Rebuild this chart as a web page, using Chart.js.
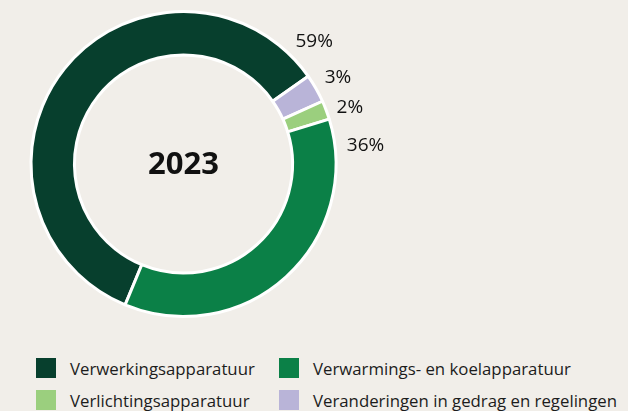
<!DOCTYPE html>
<html>
<head>
<meta charset="utf-8">
<script src="https://cdn.jsdelivr.net/npm/chart.js@4"></script>
<style>
html, body { margin: 0; padding: 0; background: #f1eee9; }
#wrap { position: relative; width: 628px; height: 411px; overflow: hidden; }
#chart { position: absolute; left: 0; top: 0; }
.item { position: absolute; display: flex; align-items: center; height: 20px;
        font-family: "Open Sans", sans-serif; font-size: 16.8px; color: #1c1c1c; white-space: nowrap; }
.swatch { width: 20px; height: 20px; margin-right: 14px; }
</style>
</head>
<body>
<div id="wrap">
  <canvas id="chart" width="628" height="345"></canvas>
  <div id="legend"></div>
</div>
<script>
// Data
const categories = ['Verwerkingsapparatuur', 'Verwarmings- en koelapparatuur', 'Verlichtingsapparatuur', 'Veranderingen in gedrag en regelingen'];
const shares = [59, 36, 2, 3];
const colors = ['#073f2d', '#0b8047', '#9bcf7e', '#b9b4d8'];
const ringOrder = [0, 3, 2, 1]; // volgorde rond de ring, met de klok mee
const centerLabel = '2023';

const ringLabels = ringOrder.map(i => categories[i]);
const ringData = ringOrder.map(i => shares[i]);
const ringColors = ringOrder.map(i => colors[i]);

// Percentages buiten de ring
const pctLabels = {
  id: 'pctLabels',
  afterDatasetsDraw(chart, args, opts) {
    const ctx = chart.ctx;
    const meta = chart.getDatasetMeta(0);
    ctx.save();
    ctx.font = opts.font;
    ctx.fillStyle = opts.color;
    ctx.textAlign = 'center';
    ctx.textBaseline = 'middle';
    meta.data.forEach((arc, i) => {
      const p = arc.getProps(['x', 'y', 'startAngle', 'endAngle', 'outerRadius']);
      let a = (p.startAngle + p.endAngle) / 2;
      if (opts.anchor[i] === 'end') a = p.endAngle;
      if (opts.anchor[i] === 'start') a = p.startAngle;
      a += opts.shift[i] * Math.PI / 180;
      const r = p.outerRadius + opts.gap[i];
      ctx.fillText(ringData[i] + '%', p.x + Math.cos(a) * r, p.y + Math.sin(a) * r);
    });
    ctx.restore();
  }
};

// Jaartal in het midden
const centerText = {
  id: 'centerText',
  afterDatasetsDraw(chart, args, opts) {
    const arc = chart.getDatasetMeta(0).data[0];
    const ctx = chart.ctx;
    ctx.save();
    ctx.font = opts.font;
    ctx.fillStyle = opts.color;
    ctx.textAlign = 'center';
    ctx.textBaseline = 'middle';
    ctx.fillText(centerLabel, arc.x, arc.y + opts.dy);
    ctx.restore();
  }
};

new Chart(document.getElementById('chart'), {
  type: 'doughnut',
  data: {
    labels: ringLabels,
    datasets: [{
      data: ringData,
      backgroundColor: ringColors,
      borderColor: '#ffffff',
      borderWidth: 3
    }]
  },
  options: {
    responsive: false,
    animation: false,
    events: [],
    cutout: '71.5%',
    rotation: 202.5,
    layout: { padding: { left: 29.5, top: 10, right: 290.5, bottom: 27 } },
    plugins: {
      legend: { display: false },
      tooltip: { enabled: false },
      pctLabels: {
        font: '19px "Open Sans", sans-serif',
        color: '#111111',
        anchor: ['end', 'mid', 'mid', 'start'],
        shift: [-8, 0.5, 2.1, 11.2],
        gap: [26.5, 24.5, 23, 30.5]
      },
      centerText: { font: 'bold 31px "Open Sans", sans-serif', color: '#111111', dy: 1 }
    }
  },
  plugins: [pctLabels, centerText]
});

// Legenda: twee kolommen
const legend = document.getElementById('legend');
categories.forEach((name, i) => {
  const el = document.createElement('div');
  el.className = 'item';
  el.style.left = (i % 2 ? 279 : 36) + 'px';
  el.style.top = (358 + Math.floor(i / 2) * 32) + 'px';
  el.innerHTML = `<span class="swatch" style="background:${colors[i]}"></span><span>${name}</span>`;
  legend.appendChild(el);
});
</script>
</body>
</html>
